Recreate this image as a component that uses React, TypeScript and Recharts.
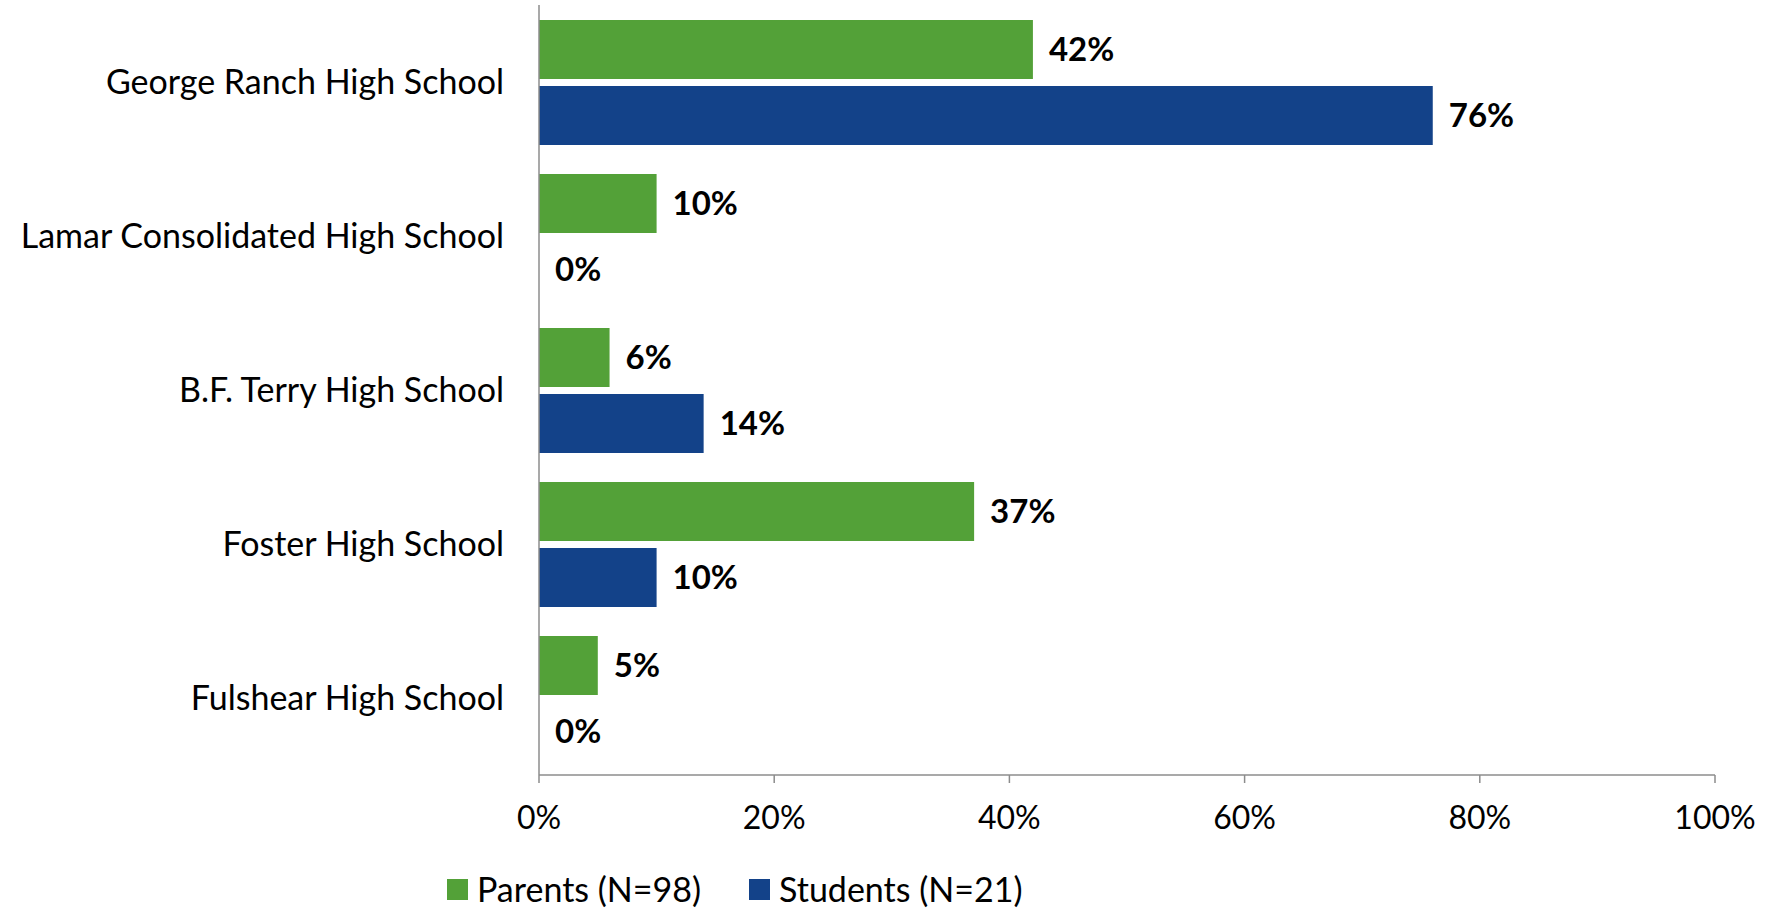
import React from 'react';
import { BarChart, Bar, XAxis, YAxis, LabelList } from 'recharts';

const categories = [
  'George Ranch High School',
  'Lamar Consolidated High School',
  'B.F. Terry High School',
  'Foster High School',
  'Fulshear High School',
];
const parentsValues = [42, 10, 6, 37, 5];
const studentsValues = [76, 0, 14, 10, 0];
const xTicks = [0, 20, 40, 60, 80, 100];
const seriesNames = ['Parents (N=98)', 'Students (N=21)'];
const seriesColors = ['#53A138', '#134289'];

const data = categories.map((c, i) => ({
  school: c,
  parents: parentsValues[i],
  students: studentsValues[i],
}));

const FONT = 'Lato, "Open Sans", sans-serif';
const labelStyle = { fill: '#000', fontWeight: 700, fontSize: 33, fontFamily: FONT };

export default function App() {
  return (
    <div style={{ position: 'absolute', left: 0, top: 0, width: 1775, height: 909, background: '#fff', fontFamily: FONT }}>
      <BarChart
        width={1775}
        height={909}
        data={data}
        layout="vertical"
        margin={{ top: 5, right: 60, bottom: 74, left: 0 }}
        barGap={7}
      >
        <XAxis
          type="number"
          domain={[0, 100]}
          ticks={xTicks}
          tickFormatter={(v) => `${v}%`}
          axisLine={{ stroke: '#8c8c8c', strokeWidth: 1.5 }}
          tickLine={{ stroke: '#8c8c8c', strokeWidth: 1.5 }}
          tickSize={8}
          tickMargin={23}
          height={60}
          interval={0}
          tick={{ fill: '#000', fontSize: 32, fontFamily: FONT }}
        />
        <YAxis
          type="category"
          dataKey="school"
          width={539}
          axisLine={{ stroke: '#8c8c8c', strokeWidth: 1.5 }}
          tickLine={false}
          tickSize={0}
          tickMargin={35}
          interval={0}
          tick={{ fill: '#000', fontSize: 34, fontFamily: FONT }}
        />
        <Bar dataKey="parents" name={seriesNames[0]} fill={seriesColors[0]} barSize={59} minPointSize={0.01} isAnimationActive={false}>
          <LabelList dataKey="parents" position="right" offset={16} formatter={(v: any) => `${v}%`} style={labelStyle} />
        </Bar>
        <Bar dataKey="students" name={seriesNames[1]} fill={seriesColors[1]} barSize={59} minPointSize={0.01} isAnimationActive={false}>
          <LabelList dataKey="students" position="right" offset={16} formatter={(v: any) => `${v}%`} style={labelStyle} />
        </Bar>
      </BarChart>
      <div
        style={{
          position: 'absolute',
          left: 447,
          top: 869,
          display: 'flex',
          alignItems: 'center',
          fontSize: 34,
          color: '#000',
          lineHeight: '40px',
          whiteSpace: 'nowrap',
        }}
      >
        {seriesNames.map((n, i) => (
          <div key={n} style={{ display: 'flex', alignItems: 'center', marginRight: i === 0 ? 48 : 0 }}>
            <span style={{ display: 'inline-block', width: 21, height: 21, background: seriesColors[i], marginRight: 9 }} />
            <span>{n}</span>
          </div>
        ))}
      </div>
    </div>
  );
}
